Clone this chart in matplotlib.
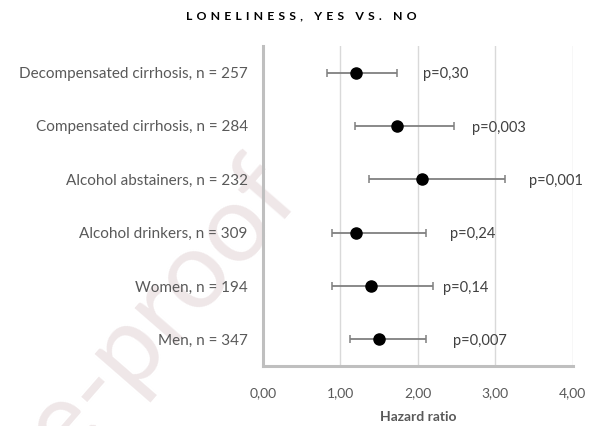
import numpy as np
import matplotlib
matplotlib.use("Agg")
import matplotlib.pyplot as plt

plt.rcParams['font.family'] = ['Lato', 'DejaVu Sans']

# subgroup hazard ratios with 95% CI
groups = ["Decompensated cirrhosis, n = 257",
          "Compensated cirrhosis, n = 284",
          "Alcohol abstainers, n = 232",
          "Alcohol drinkers, n = 309",
          "Women, n = 194",
          "Men, n = 347"]
hr = [1.20, 1.73, 2.06, 1.20, 1.40, 1.50]
ci_low = [0.83, 1.19, 1.37, 0.89, 0.89, 1.13]
ci_high = [1.73, 2.47, 3.13, 2.11, 2.20, 2.11]
p_text = ["p=0,30", "p=0,003", "p=0,001", "p=0,24", "p=0,14", "p=0,007"]
p_x = [2.07, 2.70, 3.43, 2.42, 2.33, 2.46]
x_ticks = [0, 1, 2, 3, 4]
x_ticklabels = ["0,00", "1,00", "2,00", "3,00", "4,00"]

fig = plt.figure(figsize=(5.96, 4.26), dpi=100)

# faint watermark across the lower left, kept under the axes
fig.text(0.47, 0.58, "Journal Pre-proof", fontsize=78, color="#efe7e8",
         rotation=49, ha="right", va="center", rotation_mode="anchor", zorder=0)

ax = fig.add_axes([263 / 596, 1 - 366 / 426, (572.7 - 263) / 596, 320 / 426])
ax.set_zorder(1)
ax.patch.set_alpha(0)

y = np.arange(len(groups))
hr_a = np.array(hr)
err = [hr_a - np.array(ci_low), np.array(ci_high) - hr_a]
ax.errorbar(hr, y, xerr=err, fmt="o", color="black", markersize=8,
            ecolor="#808080", elinewidth=1.3, capsize=2.6, capthick=1.1, zorder=3)

for xi, yi, t in zip(p_x, y, p_text):
    ax.text(xi, yi + 0.03, t, ha="left", va="center", fontsize=10.5, color="#404040")

ax.set_xlim(0, 4)
ax.set_ylim(len(groups) - 0.5, -0.5)
ax.set_xticks(x_ticks)
ax.set_xticklabels(x_ticklabels)
ax.set_yticks(y)
ax.set_yticklabels(groups, fontsize=11)
ax.tick_params(axis="both", length=0, labelcolor="#595959")
ax.tick_params(axis="x", pad=15, labelsize=10)
ax.tick_params(axis="y", pad=11)

ax.grid(axis="x", color="#d9d9d9", lw=1.0)
ax.set_axisbelow(True)
for s in ["top", "right"]:
    ax.spines[s].set_visible(False)
for s in ["left", "bottom"]:
    ax.spines[s].set_color("#bfbfbf")
    ax.spines[s].set_linewidth(2.2)

ax.set_xlabel("Hazard ratio", fontsize=10, fontweight="bold", color="#595959", labelpad=9)

title = "\u2004".join("LONELINESS, YES VS. NO")
fig.text(0.505, 0.962, title, ha="center", va="center", fontsize=8.8,
         fontweight="bold", color="#000000")

fig.savefig("out.png", dpi=100)
